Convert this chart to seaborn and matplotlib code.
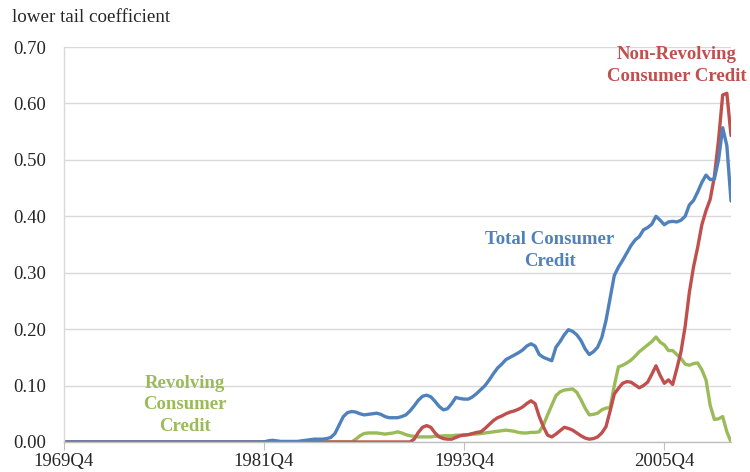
import matplotlib
matplotlib.use("Agg")
import matplotlib.pyplot as plt
import pandas as pd
import seaborn as sns

# Quarterly lower tail coefficients, 1969Q4 .. 2009Q4 (161 quarters)
total = [0.0] * 49 + [
    0.002, 0.003, 0.002, 0.001, 0.001, 0.001, 0.001, 0.001, 0.002, 0.003,   # q49-58
    0.004, 0.005, 0.005, 0.005, 0.006, 0.008, 0.015, 0.030, 0.045, 0.052,   # q59-68
    0.054, 0.053, 0.050, 0.048, 0.049, 0.050, 0.051, 0.049, 0.045, 0.043,   # q69-78
    0.043, 0.043, 0.045, 0.048, 0.055, 0.064, 0.074, 0.081, 0.083, 0.080,   # q79-88
    0.072, 0.063, 0.057, 0.059, 0.068, 0.079, 0.077, 0.076, 0.076, 0.080,   # q89-98
    0.086, 0.093, 0.100, 0.110, 0.121, 0.131, 0.138, 0.146, 0.150, 0.154,   # q99-108
    0.158, 0.163, 0.170, 0.174, 0.170, 0.155, 0.150, 0.147, 0.144, 0.168,   # q109-118
    0.178, 0.190, 0.199, 0.196, 0.190, 0.180, 0.165, 0.155, 0.160, 0.168,   # q119-128
    0.185, 0.215, 0.255, 0.295, 0.310, 0.322, 0.335, 0.348, 0.358, 0.364,   # q129-138
    0.376, 0.380, 0.386, 0.400, 0.393, 0.385, 0.390, 0.391, 0.390, 0.393,   # q139-148
    0.400, 0.420, 0.428, 0.443, 0.460, 0.473, 0.465, 0.466, 0.500, 0.557,   # q149-158
    0.525, 0.427,                                                           # q159-160
]

non_revolving = [0.0] * 84 + [
    0.005, 0.017, 0.026, 0.029, 0.026, 0.016, 0.009, 0.006, 0.005, 0.005,   # q84-93
    0.008, 0.011, 0.012, 0.013, 0.015, 0.017, 0.018, 0.024, 0.031, 0.038,   # q94-103
    0.043, 0.046, 0.050, 0.053, 0.055, 0.058, 0.062, 0.068, 0.073, 0.068,   # q104-113
    0.045, 0.027, 0.012, 0.009, 0.014, 0.020, 0.026, 0.024, 0.021, 0.016,   # q114-123
    0.011, 0.007, 0.005, 0.006, 0.009, 0.016, 0.027, 0.055, 0.085, 0.095,   # q124-133
    0.104, 0.107, 0.106, 0.101, 0.096, 0.100, 0.106, 0.120, 0.135, 0.118,   # q134-143
    0.104, 0.110, 0.102, 0.130, 0.160, 0.205, 0.265, 0.310, 0.345, 0.385,   # q144-153
    0.410, 0.430, 0.470, 0.535, 0.615, 0.618, 0.543,                        # q154-160
]

revolving = [0.0] * 70 + [
    0.005, 0.011, 0.015, 0.016, 0.016, 0.016, 0.015, 0.014, 0.015, 0.016,   # q70-79
    0.018, 0.016, 0.013, 0.011, 0.010, 0.009, 0.009, 0.009, 0.009, 0.010,   # q80-89
    0.010, 0.011, 0.011, 0.011, 0.012, 0.012, 0.013, 0.013, 0.014, 0.014,   # q90-99
    0.015, 0.016, 0.017, 0.018, 0.019, 0.020, 0.021, 0.020, 0.019, 0.017,   # q100-109
    0.016, 0.016, 0.017, 0.017, 0.018, 0.030, 0.048, 0.065, 0.082, 0.089,   # q110-119
    0.092, 0.093, 0.094, 0.088, 0.075, 0.060, 0.048, 0.049, 0.051, 0.057,   # q120-129
    0.060, 0.061, 0.100, 0.133, 0.136, 0.140, 0.145, 0.152, 0.160, 0.166,   # q130-139
    0.172, 0.178, 0.186, 0.177, 0.172, 0.162, 0.162, 0.155, 0.148, 0.138,   # q140-149
    0.136, 0.139, 0.140, 0.128, 0.110, 0.065, 0.040, 0.041, 0.045, 0.018,   # q150-159
    0.0,                                                                    # q160
]

tick_pos = [0, 48, 96, 144]
tick_labels = ["1969Q4", "1981Q4", "1993Q4", "2005Q4"]
y_ticks = [0.0, 0.1, 0.2, 0.3, 0.4, 0.5, 0.6, 0.7]

BLUE = "#4F81BD"
RED = "#C0504D"
GREEN = "#9BBB59"

df = pd.DataFrame({
    "q": list(range(len(total))),
    "Total Consumer Credit": total,
    "Non-Revolving Consumer Credit": non_revolving,
    "Revolving Consumer Credit": revolving,
})
long_df = df.melt(id_vars="q", var_name="series", value_name="value")

sns.set_style("white")
plt.rcParams["font.family"] = ["Liberation Serif", "DejaVu Serif"]

fig = plt.figure(figsize=(7.5, 4.72), dpi=100)
ax = fig.add_axes([0.0853, 0.0636, 0.8894, 0.8368])

palette = {
    "Total Consumer Credit": BLUE,
    "Non-Revolving Consumer Credit": RED,
    "Revolving Consumer Credit": GREEN,
}
sns.lineplot(data=long_df, x="q", y="value", hue="series", palette=palette,
             hue_order=["Revolving Consumer Credit", "Non-Revolving Consumer Credit",
                        "Total Consumer Credit"],
             linewidth=2.4, legend=False, ax=ax)

ax.set_xlim(0, 160)
ax.set_ylim(0, 0.7)
ax.set_xticks(tick_pos)
ax.set_xticklabels(tick_labels)
ax.set_yticks(y_ticks)
ax.set_yticklabels([f"{v:.2f}" for v in y_ticks])
ax.set_xlabel("")
ax.set_ylabel("")

ax.grid(True, axis="y", color="#D9D9D9", linewidth=1)
ax.set_axisbelow(True)
for s in ["top", "right"]:
    ax.spines[s].set_visible(False)
ax.spines["left"].set_color("#D9D9D9")
ax.spines["bottom"].set_color("#BFBFBF")
ax.spines["left"].set_linewidth(1)
ax.spines["bottom"].set_linewidth(1)
ax.tick_params(axis="y", length=5, color="#D9D9D9", labelsize=13.5, pad=8)
ax.tick_params(axis="x", length=6, color="#BFBFBF", labelsize=13.5, pad=2,
               direction="out", bottom=True)

fig.text(0.016, 0.962, "lower tail coefficient", fontsize=13.7, va="center", ha="left")

ax.text(147.0, 0.667, "Non-Revolving\nConsumer Credit", color=RED, fontsize=13.5,
        fontweight="bold", ha="center", va="center", linespacing=1.35)
ax.text(116.6, 0.339, "Total Consumer\nCredit", color=BLUE, fontsize=13.5,
        fontweight="bold", ha="center", va="center", linespacing=1.35)
ax.text(29, 0.066, "Revolving\nConsumer\nCredit", color=GREEN, fontsize=13.5,
        fontweight="bold", ha="center", va="center", linespacing=1.35)

fig.savefig("out.png", dpi=100)
